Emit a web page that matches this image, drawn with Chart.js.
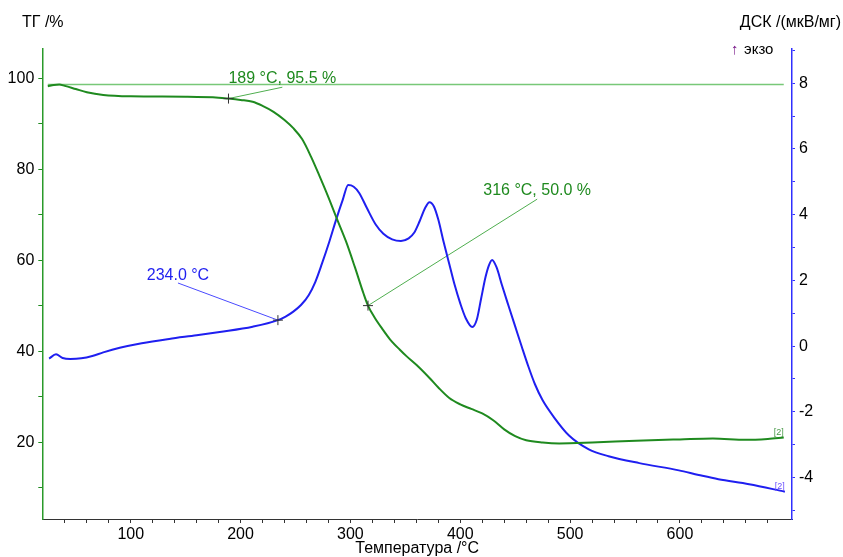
<!DOCTYPE html>
<html>
<head>
<meta charset="utf-8">
<script src="https://cdn.jsdelivr.net/npm/chart.js@4/dist/chart.umd.min.js"></script>
<style>
  html, body { margin: 0; padding: 0; background: #fff; }
  #wrap { width: 843px; height: 557px; }
</style>
</head>
<body>
<div id="wrap"><canvas id="chart" width="843" height="557"></canvas></div>
<script>
'use strict';

// TG curve (% mass) vs temperature
const tgTemp = [24.5, 30, 35, 40, 50, 60, 75, 100, 150, 180, 189, 200, 211, 220, 230, 240, 248, 256,
  264, 272, 280, 288, 296, 304, 312, 316, 322, 329, 336, 345, 351, 360, 372, 380, 390, 400, 410, 420,
  430, 440, 450, 460, 475, 490, 520, 560, 600, 630, 660, 680, 694.5];
const tgValue = [98.2, 98.5, 98.6, 98.3, 97.6, 96.9, 96.3, 96.0, 95.9, 95.7, 95.5, 95.2, 94.8, 93.9, 92.6, 90.8, 89.0, 86.6,
  82.8, 78.4, 73.8, 68.9, 64.1, 58.5, 52.6, 50.0, 47.4, 44.9, 42.6, 40.3, 38.9, 37.0, 34.1, 32.0, 29.7, 28.3, 27.3, 26.3,
  24.8, 22.8, 21.3, 20.4, 19.9, 19.7, 19.9, 20.3, 20.6, 20.8, 20.5, 20.7, 21.0];

// DSC curve (мкВ/мг) vs temperature
const dscTemp = [25.7, 32, 38, 45, 55, 65, 75, 90, 110, 135, 160, 181, 211, 234, 241, 248, 255, 262, 268, 274, 281,
  287, 293, 298, 303, 308, 315, 323, 330, 338, 346, 353, 358, 363, 368, 372, 376, 380, 385, 390, 395, 400, 405,
  411, 415, 419, 423, 426, 429, 433, 438, 444, 450, 456, 462, 468, 475, 485, 499, 517, 535, 563, 599, 617, 635,
  663, 695.5];
const dscValue = [-0.38, -0.25, -0.36, -0.39, -0.37, -0.30, -0.19, -0.05, 0.09, 0.22, 0.33, 0.43, 0.59, 0.79, 0.90, 1.05, 1.25, 1.55, 1.95, 2.5, 3.2,
  3.85, 4.45, 4.90, 4.85, 4.66, 4.2, 3.7, 3.42, 3.25, 3.20, 3.28, 3.45, 3.8, 4.2, 4.38, 4.25, 3.85, 3.15, 2.5, 1.85, 1.3, 0.85,
  0.58, 0.8, 1.45, 2.1, 2.45, 2.62, 2.4, 1.85, 1.22, 0.6, -0.02, -0.62, -1.16, -1.65, -2.15, -2.72, -3.14, -3.35, -3.56, -3.78, -3.92, -4.05,
  -4.20, -4.43];

// axis ticks
const tempTicks = [40, 60, 80, 100, 120, 140, 160, 180, 200, 220, 240, 260, 280, 300, 320, 340, 360, 380, 400,
  420, 440, 460, 480, 500, 520, 540, 560, 580, 600, 620, 640, 660, 680];
const tgTicks = [10, 20, 30, 40, 50, 60, 70, 80, 90, 100];
const dscTicks = [-5, -4, -3, -2, -1, 0, 1, 2, 3, 4, 5, 6, 7, 8, 9];

// evaluation marks
const tgMarkTemp = [189, 316];
const tgMarkValue = [95.5, 50.0];
const tgLabelTemp = [238, 470];
const tgLabelValue = [98.0, 73.4];
const dscMarkTemp = [234.0];
const dscMarkValue = [0.79];
const dscLabelTemp = [143];
const dscLabelValue = [1.92];
const tgStartLevel = 98.6;

const GREEN = '#1f8a1f';
const BLUE = '#1f1ff0';
const FONT = '"Liberation Sans", Arial, sans-serif';

const pts = (xs, ys) => xs.map((x, i) => ({ x: x, y: ys[i] }));

const datasets = [
  {
    data: pts(tgMarkTemp, tgMarkValue), yAxisID: 'tg', showLine: false,
    pointStyle: 'cross', pointRadius: 5, borderColor: '#333', borderWidth: 1, order: 0
  },
  {
    data: pts(dscMarkTemp, dscMarkValue), yAxisID: 'dsc', showLine: false,
    pointStyle: 'cross', pointRadius: 5, borderColor: '#333', borderWidth: 1, order: 0
  },
  {
    data: pts(tgTemp, tgValue), yAxisID: 'tg', borderColor: GREEN, borderWidth: 2,
    pointRadius: 0, cubicInterpolationMode: 'monotone', order: 2
  },
  {
    data: pts(dscTemp, dscValue), yAxisID: 'dsc', borderColor: BLUE, borderWidth: 2,
    pointRadius: 0, cubicInterpolationMode: 'monotone', order: 2
  },
  {
    data: [{ x: tgTemp[0], y: tgStartLevel }, { x: tgTemp[tgTemp.length - 1], y: tgStartLevel }],
    yAxisID: 'tg', borderColor: '#78c878', borderWidth: 1.5, pointRadius: 0, order: 3
  }
];

tgMarkTemp.forEach((t, i) => {
  datasets.push({
    data: [{ x: t, y: tgMarkValue[i] }, { x: tgLabelTemp[i], y: tgLabelValue[i] }],
    yAxisID: 'tg', borderColor: '#4fae4f', borderWidth: 1, pointRadius: 0, order: 3
  });
});
dscMarkTemp.forEach((t, i) => {
  datasets.push({
    data: [{ x: t, y: dscMarkValue[i] }, { x: dscLabelTemp[i], y: dscLabelValue[i] }],
    yAxisID: 'dsc', borderColor: '#4a4aff', borderWidth: 1, pointRadius: 0, order: 3
  });
});

// texts around the plot: axis titles, evaluation labels, curve tags
const textPlugin = {
  id: 'texts',
  afterDraw(chart) {
    const ctx = chart.ctx;
    const xs = chart.scales.x, tg = chart.scales.tg, dsc = chart.scales.dsc;
    ctx.save();
    ctx.font = '16px ' + FONT;
    ctx.fillStyle = '#000';
    ctx.textBaseline = 'middle';
    ctx.textAlign = 'left';
    ctx.fillText('ТГ /%', 22, 23);
    ctx.textAlign = 'right';
    ctx.fillText('ДСК /(мкВ/мг)', 841, 23);
    ctx.textAlign = 'center';
    ctx.fillText('Температура /°C', (chart.chartArea.left + chart.chartArea.right) / 2, 549);

    ctx.font = '15px ' + FONT;
    ctx.textAlign = 'left';
    ctx.fillStyle = '#7a1a8a';
    ctx.fillText('↑', 731, 50);
    ctx.fillStyle = '#000';
    ctx.fillText('экзо', 744, 50);

    ctx.font = '16px ' + FONT;
    ctx.textAlign = 'center';
    ctx.textBaseline = 'alphabetic';
    ctx.fillStyle = GREEN;
    tgMarkTemp.forEach((t, i) => {
      const txt = t + ' °C, ' + tgMarkValue[i].toFixed(1) + ' %';
      ctx.fillText(txt, xs.getPixelForValue(tgLabelTemp[i]), tg.getPixelForValue(tgLabelValue[i]) - 4);
    });
    ctx.fillStyle = BLUE;
    dscMarkTemp.forEach((t, i) => {
      ctx.fillText(t.toFixed(1) + ' °C', xs.getPixelForValue(dscLabelTemp[i]), dsc.getPixelForValue(dscLabelValue[i]) - 3);
    });

    // curve end tags
    ctx.font = '9px ' + FONT;
    ctx.textAlign = 'right';
    ctx.textBaseline = 'bottom';
    const gx = xs.getPixelForValue(tgTemp[tgTemp.length - 1]);
    const gy = tg.getPixelForValue(tgValue[tgValue.length - 1]);
    ctx.fillStyle = '#4a9a4a';
    ctx.fillText('[2]', gx, gy - 1);
    const bx = xs.getPixelForValue(dscTemp[dscTemp.length - 1]);
    const by = dsc.getPixelForValue(dscValue[dscValue.length - 1]);
    ctx.fillStyle = '#6a50ff';
    ctx.fillText('[2]', bx, by - 1);
    ctx.restore();
  }
};

new Chart(document.getElementById('chart'), {
  type: 'line',
  data: { datasets: datasets },
  options: {
    responsive: false,
    animation: false,
    devicePixelRatio: 1,
    layout: { padding: { top: 49, left: 0, right: 0, bottom: 0 } },
    plugins: { legend: { display: false }, tooltip: { enabled: false } },
    scales: {
      x: {
        type: 'linear', position: 'bottom', min: 19.5, max: 702,
        afterBuildTicks: s => { s.ticks = tempTicks.map(v => ({ value: v })); },
        afterFit: s => { s.height = 38; },
        grid: { drawOnChartArea: false, drawTicks: true, tickLength: 4, color: '#333' },
        border: { display: true, color: '#333', width: 1 },
        ticks: {
          autoSkip: false, maxRotation: 0, padding: 2, color: '#000',
          font: { family: FONT, size: 16 },
          callback: v => (v % 100 === 0 ? v : '')
        }
      },
      tg: {
        type: 'linear', position: 'left', min: 3.1, max: 106.4,
        afterBuildTicks: s => { s.ticks = tgTicks.map(v => ({ value: v })); },
        afterFit: s => { s.width = 42.3; },
        grid: { drawOnChartArea: false, drawTicks: true, tickLength: 4, color: GREEN },
        border: { display: true, color: '#2a9a2a', width: 1.5 },
        ticks: {
          autoSkip: false, padding: 4, color: '#000',
          font: { family: FONT, size: 16 },
          callback: v => (v % 20 === 0 ? v : '')
        }
      },
      dsc: {
        type: 'linear', position: 'right', min: -5.26, max: 9.04,
        afterBuildTicks: s => { s.ticks = dscTicks.map(v => ({ value: v })); },
        afterFit: s => { s.width = 51; },
        grid: { drawOnChartArea: false, drawTicks: true, tickLength: 3, color: '#3030ff' },
        border: { display: true, color: '#3030ff', width: 1.5 },
        ticks: {
          autoSkip: false, padding: 4, color: '#000',
          font: { family: FONT, size: 16 },
          callback: v => (v % 2 === 0 ? v : '')
        }
      }
    }
  },
  plugins: [textPlugin]
});
</script>
</body>
</html>
